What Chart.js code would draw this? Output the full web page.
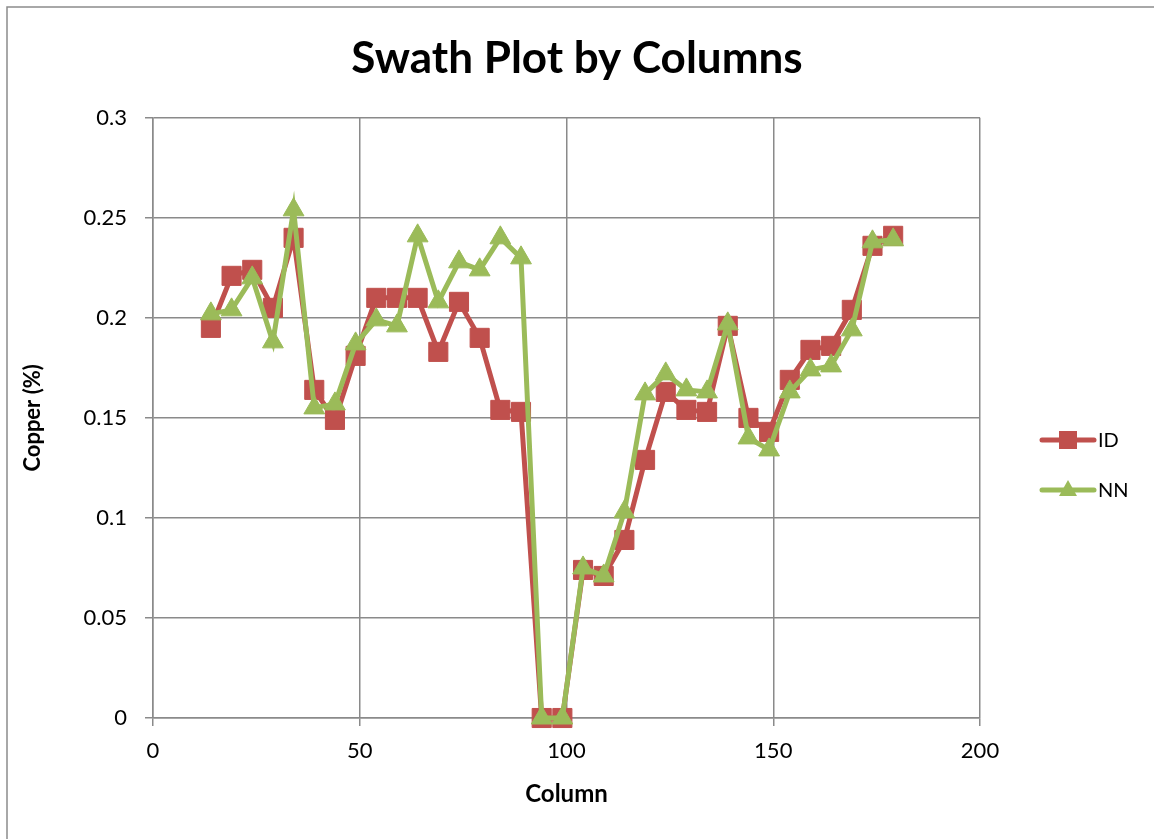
<!DOCTYPE html>
<html>
<head>
<meta charset="utf-8">
<script src="https://cdn.jsdelivr.net/npm/chart.js@4.4.1/dist/chart.umd.min.js"></script>
<style>
  html, body { margin: 0; padding: 0; background: #ffffff; }
  #wrap { width: 1154px; height: 839px; position: relative; }
</style>
</head>
<body>
<div id="wrap"><canvas id="c" width="1154" height="839"></canvas></div>
<script>
// ---- data ----
const columns = [14, 19, 24, 29, 34, 39, 44, 49, 54, 59, 64, 69, 74, 79, 84, 89, 94, 99,
                 104, 109, 114, 119, 124, 129, 134, 139, 144, 149, 154, 159, 164, 169, 174, 179];
const idValues = [0.195, 0.221, 0.224, 0.205, 0.240, 0.164, 0.149, 0.181, 0.210, 0.210,
                  0.210, 0.183, 0.208, 0.190, 0.154, 0.153, 0, 0, 0.074, 0.071,
                  0.089, 0.129, 0.163, 0.154, 0.153, 0.196, 0.150, 0.143, 0.169, 0.184,
                  0.186, 0.204, 0.236, 0.241];
const nnValues = [0.202, 0.204, 0.220, 0.188, 0.254, 0.155, 0.157, 0.187, 0.199, 0.196,
                  0.241, 0.208, 0.228, 0.224, 0.240, 0.230, 0, 0, 0.075, 0.071,
                  0.103, 0.162, 0.172, 0.164, 0.163, 0.197, 0.140, 0.134, 0.163, 0.174,
                  0.176, 0.194, 0.238, 0.239];
const xTickLabels = ['0', '50', '100', '150', '200'];
const yTickLabels = ['0', '0.05', '0.1', '0.15', '0.2', '0.25', '0.3'];
const seriesNames = ['ID', 'NN'];
const chartTitle = 'Swath Plot by Columns';
const xTitle = 'Column';
const yTitle = 'Copper (%)';

const RED = '#C0504D';
const GREEN = '#9BBB59';
const GRID = '#8a8a8a';
const FONT = 'Lato, "Open Sans", "DejaVu Sans", sans-serif';

function toPoints(xs, ys) { return xs.map((x, i) => ({ x: x, y: ys[i] })); }

const frame = {
  id: 'frame',
  beforeDraw(chart) {
    const ctx = chart.ctx;
    ctx.save();
    ctx.fillStyle = '#ffffff';
    ctx.fillRect(0, 0, chart.width, chart.height);
    ctx.strokeStyle = '#8c8c8c';
    ctx.lineWidth = 1.5;
    ctx.beginPath();
    ctx.moveTo(7, chart.height + 2);
    ctx.lineTo(7, 7);
    ctx.lineTo(chart.width + 2, 7);
    ctx.stroke();
    ctx.restore();
  }
};

const excelLegend = {
  id: 'excelLegend',
  afterDraw(chart) {
    const ctx = chart.ctx;
    const ds = chart.data.datasets;
    const x0 = chart.chartArea.right + 60;
    const yStart = 440;
    ctx.save();
    ds.forEach((d, i) => {
      const y = yStart + i * 50;
      ctx.strokeStyle = d.borderColor;
      ctx.lineWidth = 5;
      ctx.lineCap = 'round';
      ctx.beginPath();
      ctx.moveTo(x0 + 2, y);
      ctx.lineTo(x0 + 54, y);
      ctx.stroke();
      const cx = x0 + 28;
      ctx.fillStyle = d.backgroundColor;
      ctx.beginPath();
      if (d.pointStyle === 'rect') {
        ctx.rect(cx - 9, y - 9, 18, 18);
      } else {
        ctx.moveTo(cx, y - 10);
        ctx.lineTo(cx + 9, y + 6);
        ctx.lineTo(cx - 9, y + 6);
        ctx.closePath();
      }
      ctx.fill();
      ctx.fillStyle = '#000000';
      ctx.font = '20px ' + FONT;
      ctx.textAlign = 'left';
      ctx.textBaseline = 'middle';
      ctx.fillText(d.label, x0 + 58, y + 1);
    });
    ctx.restore();
  }
};

new Chart(document.getElementById('c'), {
  type: 'line',
  data: {
    datasets: [
      {
        label: seriesNames[0],
        data: toPoints(columns, idValues),
        borderColor: RED,
        backgroundColor: RED,
        pointBackgroundColor: RED,
        pointBorderColor: RED,
        pointStyle: 'rect',
        pointRadius: 13.5,
        pointBorderWidth: 1,
        borderWidth: 5,
        tension: 0,
        clip: false,
        order: 1
      },
      {
        label: seriesNames[1],
        data: toPoints(columns, nnValues),
        borderColor: GREEN,
        backgroundColor: GREEN,
        pointBackgroundColor: GREEN,
        pointBorderColor: GREEN,
        pointStyle: 'triangle',
        pointRadius: 12,
        pointBorderWidth: 1,
        borderWidth: 5,
        tension: 0,
        clip: false,
        order: 0
      }
    ]
  },
  options: {
    responsive: false,
    animation: false,
    events: [],
    layout: { padding: { left: 0, right: 0, top: 0, bottom: 0 } },
    plugins: {
      legend: { display: false },
      tooltip: { enabled: false },
      title: {
        display: true,
        text: chartTitle,
        color: '#000000',
        font: { family: FONT, size: 44, weight: 'bold', lineHeight: 1.2 },
        padding: { top: 32, bottom: 33 }
      }
    },
    scales: {
      x: {
        type: 'linear',
        min: 0,
        max: 200,
        afterBuildTicks(scale) {
          scale.ticks = xTickLabels.map(v => ({ value: Number(v) }));
        },
        afterFit(scale) { scale.height = 121; },
        ticks: {
          color: '#000000',
          font: { family: FONT, size: 22 },
          padding: 12,
          maxRotation: 0,
          callback: (v, i) => xTickLabels[i]
        },
        grid: { color: GRID, lineWidth: 1.5, tickLength: 8, drawTicks: true },
        border: { display: true, color: GRID, width: 1.5 },
        title: {
          display: true,
          text: xTitle,
          color: '#000000',
          font: { family: FONT, size: 24, weight: 'bold', lineHeight: 1.2 },
          padding: { top: 0, bottom: 30 }
        }
      },
      y: {
        type: 'linear',
        min: 0,
        max: 0.3,
        afterBuildTicks(scale) {
          scale.ticks = yTickLabels.map(v => ({ value: Number(v) }));
        },
        afterFit(scale) { scale.width = 153; },
        ticks: {
          color: '#000000',
          font: { family: FONT, size: 22 },
          padding: 18,
          callback: (v, i) => yTickLabels[i]
        },
        grid: { color: GRID, lineWidth: 1.5, tickLength: 8, drawTicks: true },
        border: { display: true, color: GRID, width: 1.5 },
        title: {
          display: true,
          text: yTitle,
          color: '#000000',
          font: { family: FONT, size: 22, weight: 'bold', lineHeight: 1.2 },
          padding: { top: 20, bottom: 0 }
        }
      },
      legendSpace: {
        type: 'linear',
        position: 'right',
        display: true,
        min: 0,
        max: 1,
        afterFit(scale) { scale.width = 174; },
        ticks: { display: false },
        grid: { display: false, drawTicks: false },
        border: { display: false },
        title: { display: false }
      }
    }
  },
  plugins: [frame, excelLegend]
});
</script>
</body>
</html>
